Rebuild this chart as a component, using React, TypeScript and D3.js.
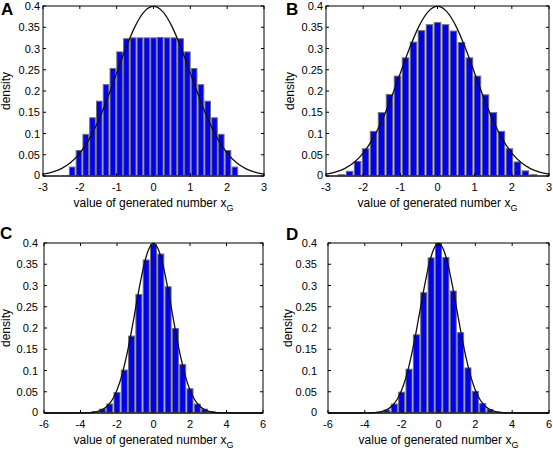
import React from "react";
import * as d3 from "d3";

// ---------- data ----------
const centersA = [-2.208, -2.024, -1.84, -1.656, -1.472, -1.288, -1.104, -0.92, -0.736, -0.552, -0.368, -0.184, 0, 0.184, 0.368, 0.552, 0.736, 0.92, 1.104, 1.288, 1.472, 1.656, 1.84, 2.024, 2.208];
const heightsA = [0.021, 0.06, 0.098, 0.137, 0.176, 0.215, 0.253, 0.292, 0.323, 0.325, 0.325, 0.325, 0.325, 0.326, 0.325, 0.325, 0.323, 0.292, 0.253, 0.215, 0.176, 0.137, 0.098, 0.06, 0.021];

const centersB = [-2.58, -2.365, -2.15, -1.935, -1.72, -1.505, -1.29, -1.075, -0.86, -0.645, -0.43, -0.215, 0, 0.215, 0.43, 0.645, 0.86, 1.075, 1.29, 1.505, 1.72, 1.935, 2.15, 2.365, 2.58];
const heightsB = [0.003, 0.011, 0.034, 0.064, 0.105, 0.149, 0.192, 0.235, 0.278, 0.315, 0.342, 0.356, 0.361, 0.356, 0.341, 0.314, 0.278, 0.235, 0.191, 0.149, 0.105, 0.064, 0.033, 0.012, 0.003];

const centersCD = [-4.8, -4.4, -4.0, -3.6, -3.2, -2.8, -2.4, -2.0, -1.6, -1.2, -0.8, -0.4, 0, 0.4, 0.8, 1.2, 1.6, 2.0, 2.4, 2.8, 3.2, 3.6, 4.0, 4.4, 4.8];
const heightsC = [0, 0, 0, 0.001, 0.003, 0.009, 0.021, 0.048, 0.101, 0.181, 0.279, 0.36, 0.397, 0.374, 0.297, 0.199, 0.114, 0.057, 0.021, 0.009, 0.003, 0.001, 0, 0, 0];
const heightsD = [0, 0, 0, 0.001, 0.002, 0.007, 0.021, 0.049, 0.103, 0.184, 0.283, 0.365, 0.399, 0.366, 0.287, 0.189, 0.106, 0.051, 0.022, 0.008, 0.002, 0.001, 0, 0, 0];

// standard normal density curve (x, y)
const curveX = [-6, -5.5, -5, -4.5, -4, -3.75, -3.5, -3.25, -3, -2.75, -2.5, -2.25, -2, -1.75, -1.5, -1.25, -1, -0.75, -0.5, -0.25, 0, 0.25, 0.5, 0.75, 1, 1.25, 1.5, 1.75, 2, 2.25, 2.5, 2.75, 3, 3.25, 3.5, 3.75, 4, 4.5, 5, 5.5, 6];
const curveY = [0, 0, 0, 0, 0.0001, 0.0004, 0.0009, 0.002, 0.0044, 0.0091, 0.0175, 0.0317, 0.054, 0.0863, 0.1295, 0.1826, 0.242, 0.3011, 0.3521, 0.3867, 0.3989, 0.3867, 0.3521, 0.3011, 0.242, 0.1826, 0.1295, 0.0863, 0.054, 0.0317, 0.0175, 0.0091, 0.0044, 0.002, 0.0009, 0.0004, 0.0001, 0, 0, 0, 0];

const ticksAB = [-3, -2, -1, 0, 1, 2, 3];
const ticksCD = [-6, -4, -2, 0, 2, 4, 6];
const yTicks = [0, 0.05, 0.1, 0.15, 0.2, 0.25, 0.3, 0.35, 0.4];
const yTickLabels = ["0", "0.05", "0.1", "0.15", "0.2", "0.25", "0.3", "0.35", "0.4"];
const letters = ["A", "B", "C", "D"];

const FONT = "'Liberation Sans', Arial, Helvetica, sans-serif";

type PanelProps = {
  letter: string;
  centers: number[];
  heights: number[];
  pitch: number;
  xDomain: [number, number];
  xTicks: number[];
  x0: number; x1: number; y0: number; y1: number;
  yLabelX: number;
  densityX: number;
  letterX: number; letterY: number;
};

function Panel(p: PanelProps) {
  const x = d3.scaleLinear().domain(p.xDomain).range([p.x0, p.x1]);
  const y = d3.scaleLinear().domain([0, 0.4]).range([p.y1, p.y0]);
  const bw = (x(p.pitch) - x(0)) * 0.82;
  const pts = curveX.map((cx, i) => [cx, curveY[i]] as [number, number])
    .filter(d => d[0] >= p.xDomain[0] && d[0] <= p.xDomain[1]);
  const line = d3.line<[number, number]>().x(d => x(d[0])).y(d => y(d[1])).curve(d3.curveMonotoneX);
  const tl = 3;
  const xMid = (p.x0 + p.x1) / 2;
  return (
    <g>
      <text x={p.letterX} y={p.letterY} fontFamily={FONT} fontWeight="bold" fontSize={17}>{p.letter}</text>
      {p.centers.map((c, i) => (
        <rect key={i} x={x(c) - bw / 2} y={y(p.heights[i])} width={bw} height={y(0) - y(p.heights[i])}
          fill="#0000f2" stroke="#6e6e6e" strokeWidth={1} />
      ))}
      <line x1={p.x0} x2={p.x1} y1={y(0)} y2={y(0)} stroke="#777" strokeWidth={1.5} />
      <path d={line(pts) || ""} fill="none" stroke="#111" strokeWidth={1.3} />
      <rect x={p.x0} y={p.y0} width={p.x1 - p.x0} height={p.y1 - p.y0} fill="none" stroke="#000" strokeWidth={1} />
      {p.xTicks.map((t, i) => (
        <g key={"xt" + i}>
          <line x1={x(t)} x2={x(t)} y1={p.y1} y2={p.y1 - tl} stroke="#000" />
          <line x1={x(t)} x2={x(t)} y1={p.y0} y2={p.y0 + tl} stroke="#000" />
          <text x={x(t)} y={p.y1 + 15} textAnchor="middle" fontFamily={FONT} fontSize={11}>{t}</text>
        </g>
      ))}
      {yTicks.map((t, i) => (
        <g key={"yt" + i}>
          <line x1={p.x0} x2={p.x0 + tl} y1={y(t)} y2={y(t)} stroke="#000" />
          <line x1={p.x1} x2={p.x1 - tl} y1={y(t)} y2={y(t)} stroke="#000" />
          <text x={p.yLabelX} y={y(t) + (i === 0 ? 2.5 : 4)} textAnchor="end" fontFamily={FONT} fontSize={11}>{yTickLabels[i]}</text>
        </g>
      ))}
      <text x={xMid} y={p.y1 + 31} textAnchor="middle" fontFamily={FONT} fontSize={12}>
        value of generated number x<tspan dy={4} fontSize={9}>G</tspan>
      </text>
      <text transform={`translate(${p.densityX},${(p.y0 + p.y1) / 2}) rotate(-90)`} textAnchor="middle"
        fontFamily={FONT} fontSize={12} dy={4}>density</text>
    </g>
  );
}

export default function App() {
  return (
    <svg width={553} height={450} style={{ position: "absolute", left: 0, top: 0, background: "#fff" }}>
      <Panel letter={letters[0]} centers={centersA} heights={heightsA} pitch={0.184} xDomain={[-3, 3]} xTicks={ticksAB}
        x0={43} x1={264} y0={6} y1={176} yLabelX={40} densityX={6} letterX={1} letterY={15} />
      <Panel letter={letters[1]} centers={centersB} heights={heightsB} pitch={0.215} xDomain={[-3, 3]} xTicks={ticksAB}
        x0={326} x1={549} y0={6} y1={176} yLabelX={323} densityX={290} letterX={286} letterY={15} />
      <Panel letter={letters[2]} centers={centersCD} heights={heightsC} pitch={0.4} xDomain={[-6, 6]} xTicks={ticksCD}
        x0={44} x1={263} y0={243} y1={413} yLabelX={38} densityX={6} letterX={0} letterY={239} />
      <Panel letter={letters[3]} centers={centersCD} heights={heightsD} pitch={0.4} xDomain={[-6, 6]} xTicks={ticksCD}
        x0={328} x1={549} y0={243} y1={413} yLabelX={317} densityX={288} letterX={286} letterY={240} />
    </svg>
  );
}
